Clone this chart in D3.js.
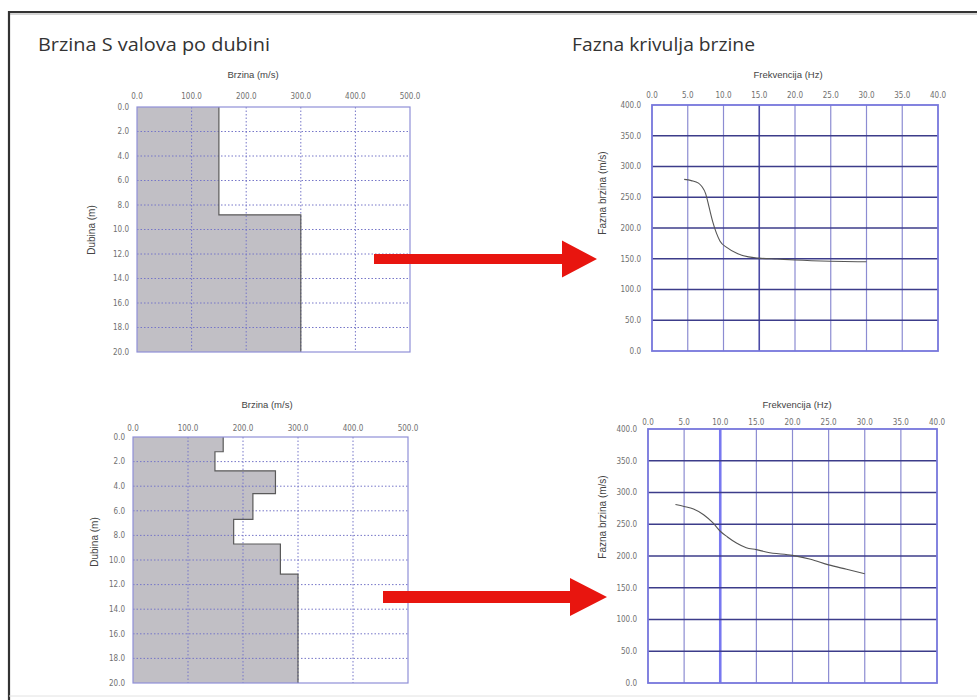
<!DOCTYPE html>
<html><head><meta charset="utf-8">
<script src="https://cdn.jsdelivr.net/npm/d3@7"></script>
<style>body{margin:0;background:#fff;} svg{display:block;}</style>
</head><body>
<svg id="c" width="977" height="700"></svg>
<script>
// ---------- data ----------
const velTicks = [0, 100, 200, 300, 400, 500];
const depthTicks = [0, 2, 4, 6, 8, 10, 12, 14, 16, 18, 20];
const freqTicks = [0, 5, 10, 15, 20, 25, 30, 35, 40];
const phaseTicks = [0, 50, 100, 150, 200, 250, 300, 350, 400];

// layered S-wave velocity profiles (layer boundaries in m, velocity in m/s)
const profile1Depth = [0, 8.8, 20];
const profile1Vel = [150, 300];
const profile2Depth = [0, 1.2, 2.75, 4.6, 6.7, 8.7, 11.15, 20];
const profile2Vel = [164, 149, 259, 218, 183, 268, 300];

// phase velocity dispersion curves
const curve1Freq = [4.5, 5.5, 6.5, 7.0, 7.5, 8.0, 8.5, 9.0, 9.5, 10.5, 12, 13.5, 15, 17.5, 20, 25, 30];
const curve1Vel  = [279, 277, 273, 267, 256, 233, 210, 192, 179, 168, 158, 153, 151, 149.5, 148, 146, 145];
const curve2Freq = [3.8, 5, 6.3, 7.7, 9, 10, 11, 12.3, 13.6, 15, 16.5, 20, 22.5, 25, 27.5, 30];
const curve2Vel  = [281, 278, 274, 265, 252, 239, 230, 220, 213, 210, 206, 201, 195, 186, 179, 172];

const mainTitles = ["Brzina S valova po dubini", "Fazna krivulja brzine"];
const velTitle = "Brzina (m/s)", depthTitle = "Dubina (m)";
const freqTitle = "Frekvencija (Hz)", phaseTitle = "Fazna brzina (m/s)";

// ---------- drawing ----------
const svg = d3.select("#c");
const fmt = d3.format(".1f");
const tickFont = "'DejaVu Sans Condensed','DejaVu Sans',sans-serif";
const labelFont = "'Liberation Sans',Arial,sans-serif";

// page frame
svg.append("line").attr("x1", 9).attr("x2", 977).attr("y1", 12).attr("y2", 12).attr("stroke", "#333").attr("stroke-width", 2.2);
svg.append("line").attr("x1", 9).attr("x2", 977).attr("y1", 14).attr("y2", 14).attr("stroke", "#aaa").attr("stroke-width", 1);
svg.append("line").attr("x1", 9).attr("x2", 9).attr("y1", 11).attr("y2", 700).attr("stroke", "#333").attr("stroke-width", 2.2);
svg.append("line").attr("x1", 9).attr("x2", 977).attr("y1", 696).attr("y2", 696).attr("stroke", "#e2e2e2").attr("stroke-width", 1);

svg.append("text").attr("x", 38).attr("y", 51).text(mainTitles[0])
  .attr("font-family", "'Open Sans',Lato,sans-serif").attr("font-size", 18.5).attr("fill", "#333")
  .attr("textLength", 232).attr("lengthAdjust", "spacingAndGlyphs");
svg.append("text").attr("x", 572).attr("y", 51).text(mainTitles[1])
  .attr("font-family", "'Open Sans',Lato,sans-serif").attr("font-size", 18.5).attr("fill", "#333")
  .attr("textLength", 183).attr("lengthAdjust", "spacingAndGlyphs");

function axisTexts(g, box, x, y, xTicks, yTicks, xOff, yOff) {
  g.selectAll(".xt").data(xTicks).join("text")
    .attr("x", d => x(d)).attr("y", box.y0 - xOff).attr("text-anchor", "middle")
    .attr("font-family", tickFont).attr("font-size", 8).attr("fill", "#707070").text(fmt);
  g.selectAll(".yt").data(yTicks).join("text")
    .attr("x", box.x0 - yOff).attr("y", d => y(d)).attr("dy", "0.35em").attr("text-anchor", "end")
    .attr("font-family", tickFont).attr("font-size", 8).attr("fill", "#707070").text(fmt);
}
function titles(g, xt, xtPos, yt, ytPos) {
  g.append("text").attr("x", xtPos[0]).attr("y", xtPos[1]).attr("text-anchor", "middle")
    .attr("font-family", labelFont).attr("font-size", 9.5).attr("fill", "#444").text(xt);
  g.append("text").attr("transform", `translate(${ytPos[0]},${ytPos[1]}) rotate(-90)`).attr("text-anchor", "middle")
    .attr("font-family", labelFont).attr("font-size", 10).attr("fill", "#444").text(yt);
}

function profilePanel(box, depths, vels, xtPos, ytPos, xOff) {
  const g = svg.append("g");
  const x = d3.scaleLinear().domain([0, 500]).range([box.x0, box.x1]);
  const y = d3.scaleLinear().domain([0, 20]).range([box.y0, box.y1]);
  const pts = [];
  vels.forEach((v, i) => { pts.push({ d: depths[i], v }); pts.push({ d: depths[i + 1], v }); });
  g.append("path").datum(pts)
    .attr("d", d3.area().y(p => y(p.d)).x0(x(0)).x1(p => x(p.v)))
    .attr("fill", "#c1bfc5");
  g.selectAll(".hg").data(depthTicks.slice(1, -1)).join("line")
    .attr("x1", box.x0).attr("x2", box.x1).attr("y1", d => y(d)).attr("y2", d => y(d))
    .attr("stroke", "#7676c8").attr("stroke-width", 1).attr("stroke-dasharray", "1.5,2");
  g.selectAll(".vg").data(velTicks.slice(1, -1)).join("line")
    .attr("y1", box.y0).attr("y2", box.y1).attr("x1", d => x(d)).attr("x2", d => x(d))
    .attr("stroke", "#7676c8").attr("stroke-width", 1).attr("stroke-dasharray", "1.5,2");
  g.append("path").datum(pts)
    .attr("d", d3.line().x(p => x(p.v)).y(p => y(p.d)))
    .attr("fill", "none").attr("stroke", "#5a5a5a").attr("stroke-width", 1.2);
  g.append("rect").attr("x", box.x0).attr("y", box.y0).attr("width", box.x1 - box.x0).attr("height", box.y1 - box.y0)
    .attr("fill", "none").attr("stroke", "#9090d8").attr("stroke-width", 1.2);
  axisTexts(g, box, x, y, velTicks, depthTicks, xOff, 8);
  titles(g, velTitle, xtPos, depthTitle, ytPos);
}

function curvePanel(box, fr, vel, xtPos, ytPos, xOff, hiFreq, hiColor, hiWidth) {
  const g = svg.append("g");
  const x = d3.scaleLinear().domain([0, 40]).range([box.x0, box.x1]);
  const y = d3.scaleLinear().domain([0, 400]).range([box.y1, box.y0]);
  g.selectAll(".vg").data(freqTicks.slice(1, -1)).join("line")
    .attr("y1", box.y0).attr("y2", box.y1).attr("x1", d => x(d)).attr("x2", d => x(d))
    .attr("stroke", d => d === hiFreq ? hiColor : "#8c8cd2").attr("stroke-width", d => d === hiFreq ? hiWidth : 1.2);
  g.selectAll(".hg").data(phaseTicks.slice(1, -1)).join("line")
    .attr("x1", box.x0).attr("x2", box.x1).attr("y1", d => y(d)).attr("y2", d => y(d))
    .attr("stroke", "#3c3c8a").attr("stroke-width", 1.4);
  g.append("rect").attr("x", box.x0).attr("y", box.y0).attr("width", box.x1 - box.x0).attr("height", box.y1 - box.y0)
    .attr("fill", "none").attr("stroke", "#7676dc").attr("stroke-width", 1.8);
  const data = fr.map((f, i) => ({ f, v: vel[i] }));
  g.append("path").datum(data)
    .attr("d", d3.line().x(p => x(p.f)).y(p => y(p.v)).curve(d3.curveMonotoneX))
    .attr("fill", "none").attr("stroke", "#555").attr("stroke-width", 1.1);
  axisTexts(g, box, x, y, freqTicks, phaseTicks, xOff, 11);
  titles(g, freqTitle, xtPos, phaseTitle, ytPos);
}

profilePanel({ x0: 137, x1: 410, y0: 107, y1: 352 }, profile1Depth, profile1Vel, [253, 78], [95, 230], 8);
profilePanel({ x0: 133, x1: 408, y0: 437, y1: 683 }, profile2Depth, profile2Vel, [267, 408], [98, 542], 6);
curvePanel({ x0: 652, x1: 938, y0: 105, y1: 351 }, curve1Freq, curve1Vel, [788, 78], [606, 193], 7, 15, "#4a4aa6", 1.6);
curvePanel({ x0: 648, x1: 937, y0: 429, y1: 683 }, curve2Freq, curve2Vel, [797, 408], [606, 517], 4, 10, "#7878f0", 2.6);

// arrows linking each profile to its dispersion curve
function arrow(x0, xh, xt, yc, sh, hh) {
  const p = d3.path();
  p.moveTo(x0, yc - sh); p.lineTo(xh, yc - sh); p.lineTo(xh, yc - hh); p.lineTo(xt, yc);
  p.lineTo(xh, yc + hh); p.lineTo(xh, yc + sh); p.lineTo(x0, yc + sh); p.closePath();
  svg.append("path").attr("d", p.toString()).attr("fill", "#e8150f");
}
arrow(374, 562, 597, 259, 5, 18.5);
arrow(383, 570, 607, 597, 6, 19);
</script>
</body></html>
